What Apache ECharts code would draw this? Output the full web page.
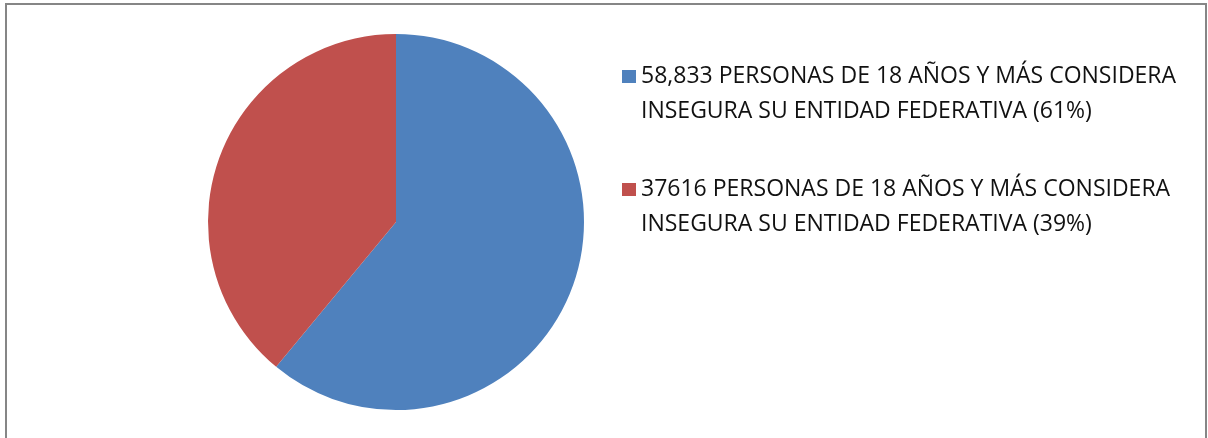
<!DOCTYPE html>
<html>
<head>
<meta charset="utf-8">
<script src="https://cdn.jsdelivr.net/npm/echarts@6/dist/echarts.min.js"></script>
<style>
  html, body { margin: 0; padding: 0; background: #fff; }
  #main { width: 1208px; height: 438px; }
</style>
</head>
<body>
<div id="main"></div>
<script>
const names = [
  '58,833 PERSONAS DE 18 AÑOS Y MÁS CONSIDERA\nINSEGURA SU ENTIDAD FEDERATIVA (61%)',
  '37616 PERSONAS DE 18 AÑOS Y MÁS CONSIDERA\nINSEGURA SU ENTIDAD FEDERATIVA (39%)'
]
const values = [58833, 37616]
const colors = ['#4F81BD', '#C0504D']

const chart = echarts.init(document.getElementById('main'))
const option = {
  animation: false,
  color: colors,
  graphic: [
    {
      type: 'rect',
      shape: { x: 6, y: 4, width: 1200, height: 500 },
      style: { fill: 'none', stroke: '#868686', lineWidth: 2 },
      silent: true
    }
  ],
  legend: {
    orient: 'vertical',
    left: 617,
    top: 19,
    icon: 'rect',
    itemWidth: 14,
    itemHeight: 13,
    itemGap: 8,
    // blank first line so the marker sits beside the first text line
    formatter: name => ' \n' + name,
    textStyle: {
      fontFamily: 'Open Sans',
      fontSize: 23,
      lineHeight: 35,
      color: '#111'
    }
  },
  series: [
    {
      type: 'pie',
      center: [396, 222],
      radius: 188,
      startAngle: 90,
      clockwise: true,
      label: { show: false },
      labelLine: { show: false },
      data: names.map((n, i) => ({ name: n, value: values[i] }))
    }
  ]
}
chart.setOption(option)
</script>
</body>
</html>
